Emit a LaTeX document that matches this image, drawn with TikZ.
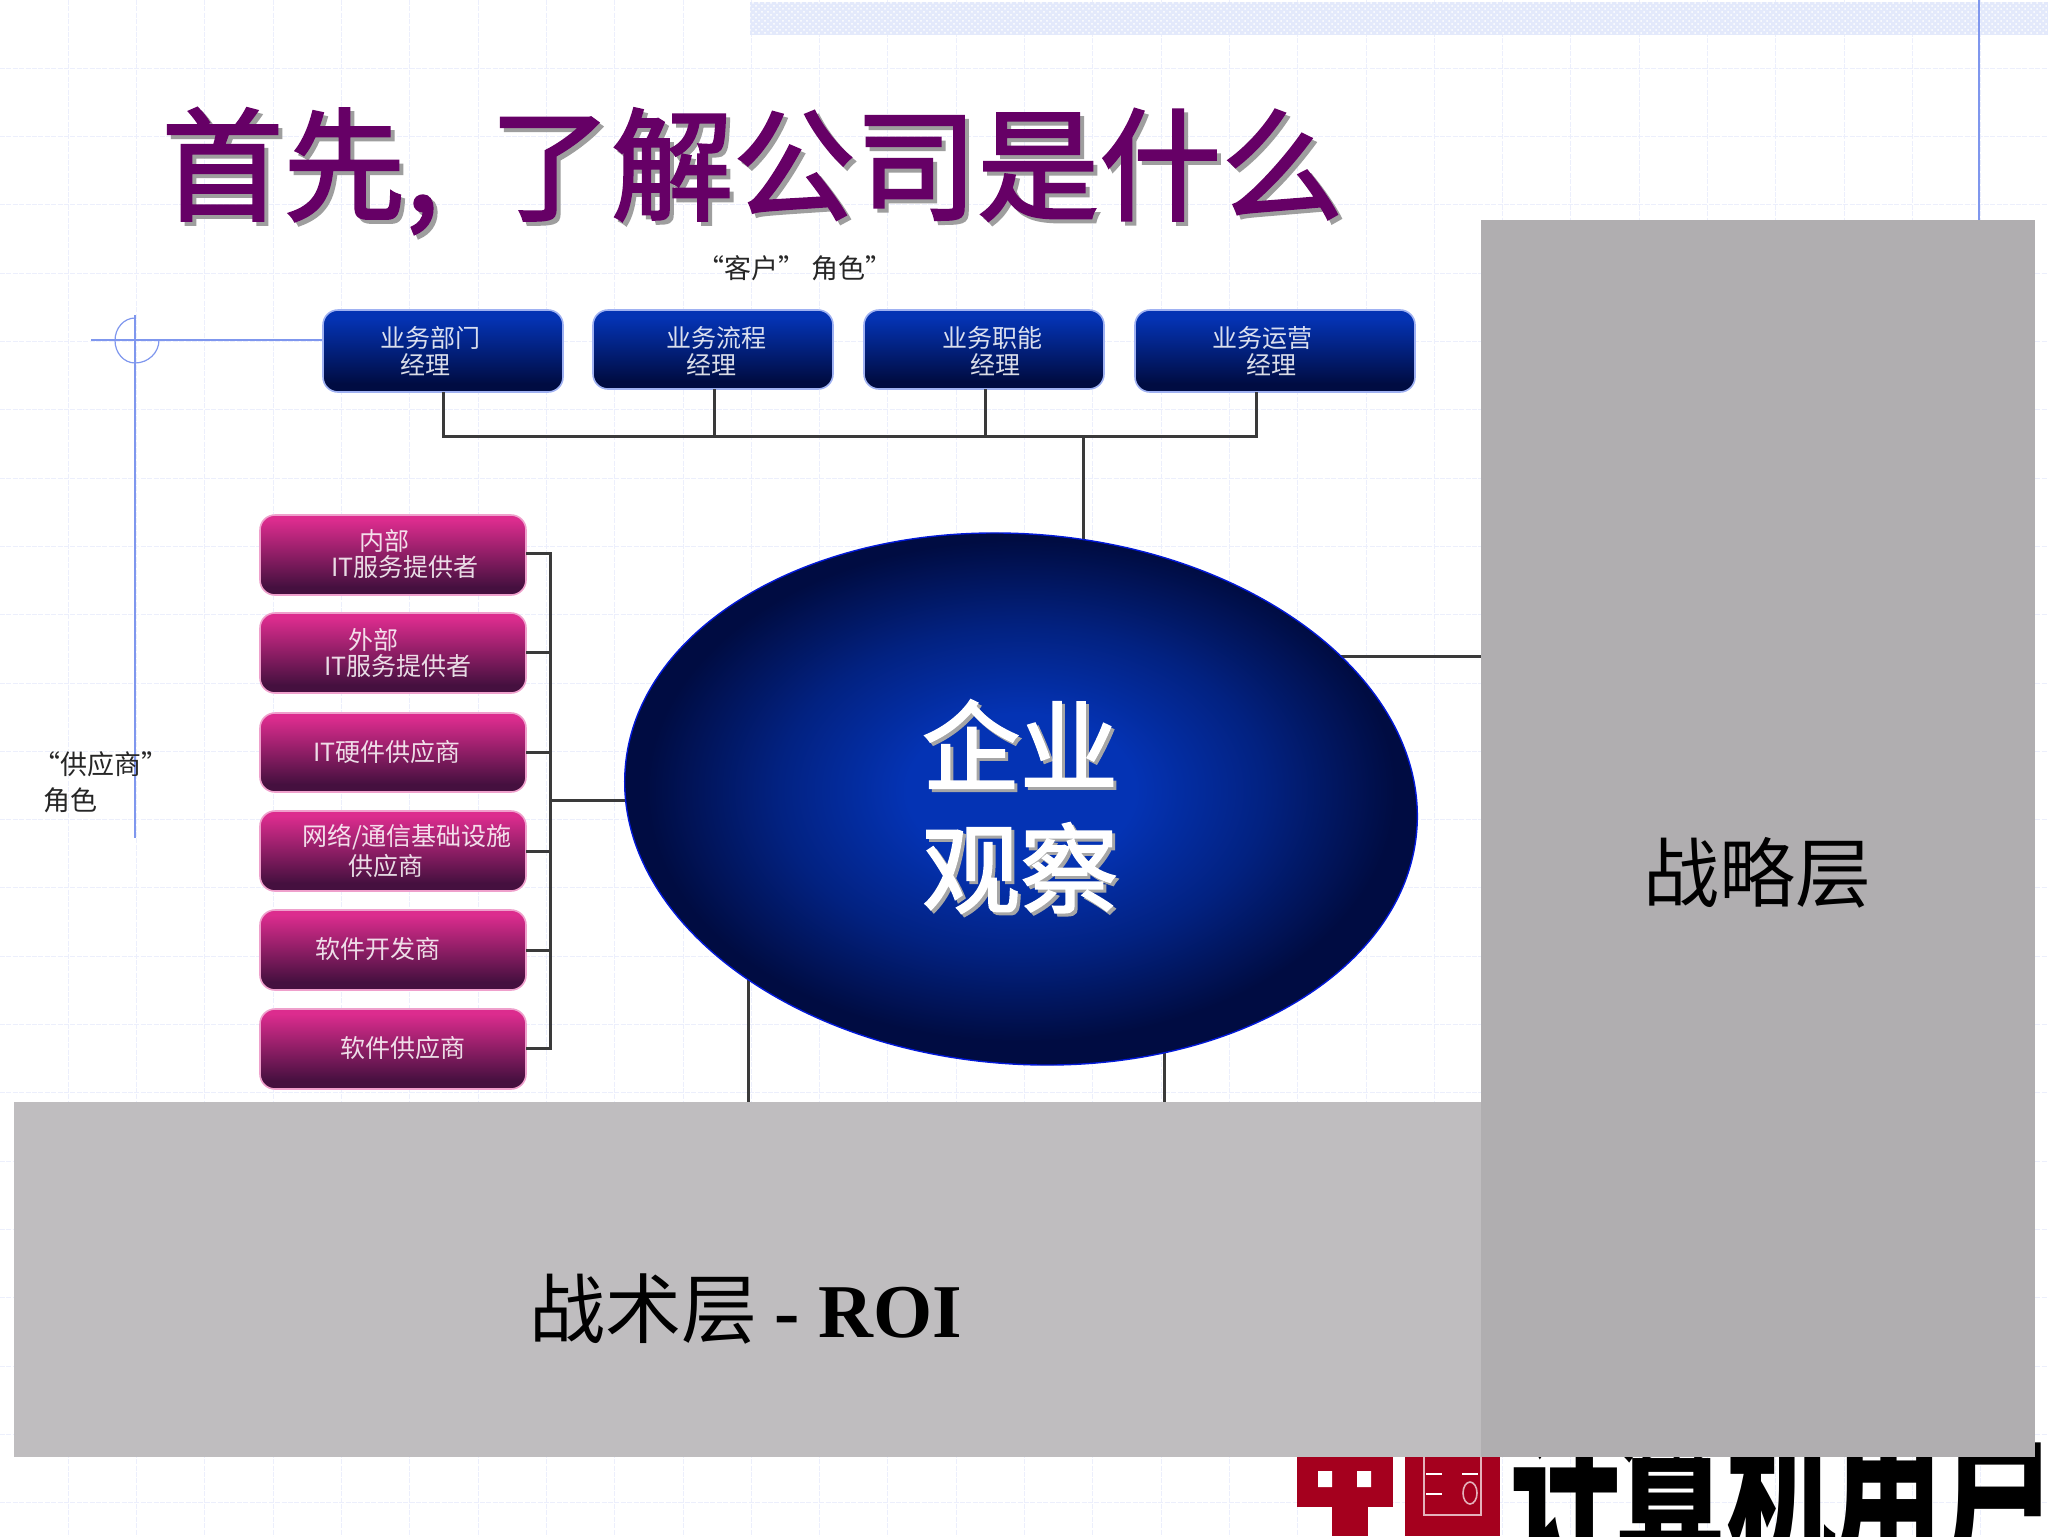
\documentclass[tikz,border=0pt]{standalone}
\usepackage{fontspec}
\usetikzlibrary{shapes.geometric,calc,patterns}
\setmainfont{Noto Sans CJK SC}
\newfontfamily\romanbold{Liberation Serif Bold}
\newfontfamily\heavyfont[FakeBold=2]{Noto Sans CJK SC}
\definecolor{gridc}{HTML}{ECEFFC}
\definecolor{bluel}{HTML}{7F97EE}
\definecolor{titlec}{HTML}{660066}
\definecolor{greyL}{HTML}{BFBDBF}
\definecolor{greyR}{HTML}{B0AEB0}
\definecolor{wire}{HTML}{3A3A3A}
\definecolor{logored}{HTML}{A5001E}
\definecolor{btop}{HTML}{0433B4}
\definecolor{bbot}{HTML}{000C42}
\definecolor{ptop}{HTML}{DC2C8E}
\definecolor{pbot}{HTML}{45103F}
\definecolor{bandc}{HTML}{E3E9FB}
\pgfdeclareverticalshading{bboxshade}{100bp}{color(0bp)=(bbot); color(30bp)=(bbot); color(70bp)=(btop); color(100bp)=(btop)}
\pgfdeclareverticalshading{pboxshade}{100bp}{color(0bp)=(pbot); color(30bp)=(pbot); color(72bp)=(ptop); color(100bp)=(ptop)}
\pgfdeclareradialshading{eyeshade}{\pgfpoint{0bp}{0bp}}{color(0bp)=(btop); color(7bp)=(btop); color(15bp)=(bbot!45!btop); color(23bp)=(bbot); color(50bp)=(bbot)}
\tikzset{
  x=0.5pt,y=-0.5pt,
  wireline/.style={draw=wire,line width=1.5pt},
  guide/.style={draw=bluel,line width=0.6pt},
  gridline/.style={draw=gridc,line width=0.5pt,dash pattern=on 2.5pt off 0.7pt},
  bluebox/.style={draw=bluel!75,line width=0.8pt,rounded corners=7.5pt,shading=bboxshade},
  pinkbox/.style={draw=ptop!45,line width=0.8pt,rounded corners=7.5pt,shading=pboxshade},
  wtxt/.style={text=white,font=\fontsize{12.5}{14}\selectfont,inner sep=0pt,opacity=.85},
  ltxt/.style={text=black!85,font=\fontsize{13.5}{15}\selectfont,inner sep=0pt},
  bigt/.style={text=black,font=\fontsize{38}{42}\selectfont,inner sep=0pt},
  titlet/.style={inner sep=0pt,anchor=west,font=\fontsize{61}{66}\heavyfont},
  eyet/.style={inner sep=0pt,font=\fontsize{49}{52}\heavyfont},
}
\begin{document}
\begin{tikzpicture}
\useasboundingbox (0,0) rectangle (2048,1536);
\fill[white] (0,0) rectangle (2048,1536);
% grid
\foreach \k in {1,...,29} {\draw[gridline] (68.3*\k,0) -- (68.3*\k,1536);}
\foreach \k in {1,...,22} {\draw[gridline] (0,68.3*\k) -- (2048,68.3*\k);}
% top band
\fill[bandc] (750,2) rectangle (2048,35);
\fill[pattern=crosshatch dots,pattern color=white] (750,2) rectangle (2048,35);
\draw[guide] (1979,0) -- (1979,220);
% guides
\coordinate (hl) at (91,340);
\coordinate (vt) at (135,315);
\coordinate (vb) at (135,838);
\draw[guide] (vt) -- (vb);
\draw[guide,line width=0.9pt] (hl) -- (323,340);
\draw[guide] (135,318) arc[start angle=270,end angle=90,x radius=20,y radius=22.5];
\draw[guide] (135,363) arc[start angle=90,end angle=0,x radius=24,y radius=23];
% logo (behind the grey panels)
\fill[logored] (1297,1450) rectangle (1393,1507);
\fill[logored] (1332,1500) rectangle (1368,1536);
\fill[white] (1318,1471) rectangle (1332,1487) (1357,1471) rectangle (1371,1487);
\fill[logored] (1405,1450) rectangle (1500,1536);
\draw[white!70!logored,line width=0.8pt] (1424,1450) -- (1424,1515) -- (1481,1515) -- (1481,1450);
\draw[white,line width=1.2pt] (1426,1474) -- (1442,1474) (1462,1474) -- (1478,1474) (1426,1494) -- (1442,1494);
\draw[white!70!logored,line width=0.8pt] (1470,1493) ellipse[x radius=7,y radius=11];
\begin{scope}
\clip (1500,1440) rectangle (2048,1536);
\foreach \t/\x in {计/1565,算/1670,机/1781,用/1887,户/1999}
  \node[inner sep=0pt,text=black,font=\fontsize{55}{60}\selectfont\bfseries,yscale=1.5] at (\x,1497) {\t};
\end{scope}
% title
\node[titlet,text=black!38] at (165,175) {首先,\kern25pt 了解公司是什么};
\node[titlet,text=titlec] (title) at (161,171) {首先,\kern25pt 了解公司是什么};
% labels
\node[ltxt] (cust) at (795,268) {“客户" 角色"};
\node[ltxt,anchor=west] (sup1) at (33,764) {“供应商"};
\node[ltxt,anchor=west] (sup2) at (43,800) {角色};
% blue boxes
\path[bluebox] (323,310) rectangle (563,392);
\path[bluebox] (593,310) rectangle (833,389);
\path[bluebox] (864,310) rectangle (1104,389);
\path[bluebox] (1135,310) rectangle (1415,392);
\coordinate (bx1) at (443,392);
\coordinate (bx2) at (714,389);
\coordinate (bx3) at (985,389);
\coordinate (bx4) at (1256,392);
\node[wtxt] (b1a) at (430,338) {业务部门};
\node[wtxt] (b1b) at (425,365) {经理};
\node[wtxt] (b2a) at (716,338) {业务流程};
\node[wtxt] (b2b) at (711,365) {经理};
\node[wtxt] (b3a) at (992,338) {业务职能};
\node[wtxt] (b3b) at (995,365) {经理};
\node[wtxt] (b4a) at (1262,338) {业务运营};
\node[wtxt] (b4b) at (1271,365) {经理};
% pink boxes
\foreach \a/\b in {515/595,613/693,713/792,811/891,910/990,1009/1089}
  \path[pinkbox] (260,\a) rectangle (526,\b);
\node[wtxt] (p1a) at (384,541) {内部};
\node[wtxt] (p1b) at (405,567) {IT服务提供者};
\node[wtxt] (p2a) at (373,640) {外部};
\node[wtxt] (p2b) at (398,666) {IT服务提供者};
\node[wtxt] (p3a) at (387,752) {IT硬件供应商};
\node[wtxt] (p4a) at (407,837) {网络/通信基础设施};
\node[wtxt] (p4b) at (386,866) {供应商};
\node[wtxt] (p5a) at (378,949) {软件开发商};
\node[wtxt] (p6a) at (403,1048) {软件供应商};
% connectors
\draw[wireline] (bx1) |- (1256,436) -- (bx4);
\draw[wireline] (bx2) -- (714,436);
\draw[wireline] (bx3) -- (985,436);
\draw[wireline] (1083,436) -- (1083,560);
\draw[wireline] (526,553) -- (550,553) -- (550,1048) -- (526,1048);
\foreach \y in {652,752,851,950} \draw[wireline] (526,\y) -- (550,\y);
\draw[wireline] (550,800) -- (640,800);
\draw[wireline] (1300,656) -- (1481,656);
\draw[wireline] (748,950) -- (748,1102);
\draw[wireline] (1164,1030) -- (1164,1102);
% ellipse
\node[ellipse,rotate=-4.5,minimum width=397pt,minimum height=265pt,inner sep=0pt,shading=eyeshade,draw=blue!50!btop,line width=0.7pt] (eye) at (1021,799) {};
\foreach \l/\y in {企业/744,观察/868} {
  \node[eyet,text=black!35] at (1023,\y+3) {\l};
  \node[eyet,text=white] at (1020,\y) {\l};
}
% grey panels
\fill[greyL] (14,1102) rectangle (1481,1457);
\fill[greyR] (1481,220) rectangle (2035,1457);
\node[bigt] (strat) at (1757,873) {战略层};
\node[bigt,anchor=west] (tact) at (529,1309) {战术层 {\romanbold - ROI}};
\end{tikzpicture}
\end{document}
